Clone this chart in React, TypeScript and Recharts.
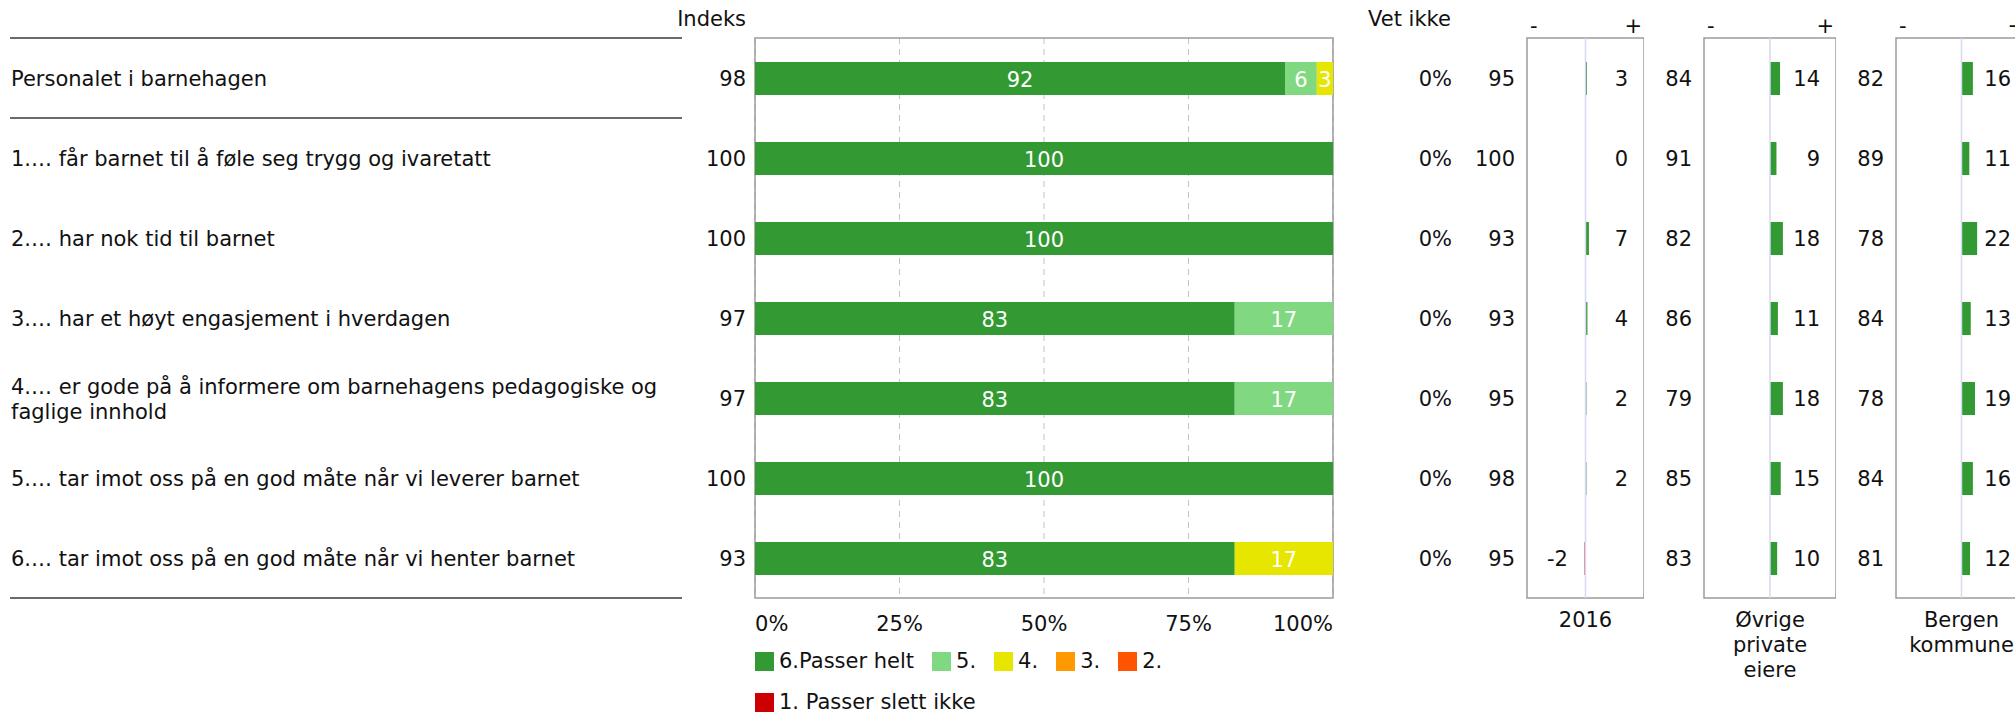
import React from 'react';
import {
  BarChart,
  Bar,
  XAxis,
  YAxis,
  CartesianGrid,
  ReferenceArea,
  ReferenceLine,
  LabelList,
  Cell,
} from 'recharts';

const FONT = '"DejaVu Sans", Verdana, sans-serif';
const FS = 21;
const INK = '#111111';

// ===== data =====
const questions = [
  'Personalet i barnehagen',
  '1.… får barnet til å føle seg trygg og ivaretatt',
  '2.… har nok tid til barnet',
  '3.… har et høyt engasjement i hverdagen',
  '4.… er gode på å informere om barnehagens pedagogiske og faglige innhold',
  '5.… tar imot oss på en god måte når vi leverer barnet',
  '6.… tar imot oss på en god måte når vi henter barnet',
];
const indeks = [98, 100, 100, 97, 97, 100, 93];
const vetIkke = [0, 0, 0, 0, 0, 0, 0];

// share of answers per grade (%)
const s6 = [91.7, 100, 100, 83, 83, 100, 83];
const s5 = [5.5, 0, 0, 17, 17, 0, 0];
const s4 = [2.8, 0, 0, 0, 0, 0, 17];
const s3 = [0, 0, 0, 0, 0, 0, 0];
const s2 = [0, 0, 0, 0, 0, 0, 0];
const s1 = [0, 0, 0, 0, 0, 0, 0];

const seriesKeys = ['s6', 's5', 's4', 's3', 's2', 's1'];
const seriesValues = [s6, s5, s4, s3, s2, s1];
const seriesNames = ['6.Passer helt', '5.', '4.', '3.', '2.', '1. Passer slett ikke'];
const seriesColors = ['#339933', '#80d880', '#e6e600', '#ff9900', '#ff5500', '#cc0000'];
const pctTicks = [0, 25, 50, 75, 100];

// comparison panels
const base2016 = [95, 100, 93, 93, 95, 98, 95];
const diff2016 = [3, 0, 7, 4, 2, 2, -2];
const baseOvrige = [84, 91, 82, 86, 79, 85, 83];
const diffOvrige = [14, 9, 18, 11, 18, 15, 10];
const baseBergen = [82, 89, 78, 84, 78, 84, 81];
const diffBergen = [16, 11, 22, 13, 19, 16, 12];

const panelNames = [['2016'], ['Øvrige', 'private', 'eiere'], ['Bergen', 'kommune']];
const panelBase = [base2016, baseOvrige, baseBergen];
const panelDiff = [diff2016, diffOvrige, diffBergen];
const panelDomain = [120, 92, 92];

// layout
const panelLeft = [1527, 1704, 1896];
const panelWidth = [117, 132, 131];
const ROW = 80;
const LABEL_MAX = 665;

const mainData = questions.map((q, i) => {
  const row: any = { label: q, indeks: indeks[i], vetIkke: vetIkke[i] };
  seriesKeys.forEach((k, j) => (row[k] = seriesValues[j][i]));
  return row;
});

const txt = { fontSize: FS, fontFamily: FONT };

// word wrap with canvas measuring
let ctx: CanvasRenderingContext2D | null = null;
function wrap(s: string, maxW: number) {
  if (!ctx) ctx = document.createElement('canvas').getContext('2d');
  if (!ctx) return [s];
  ctx.font = `${FS}px ${FONT}`;
  const lines: string[] = [];
  let cur = '';
  s.split(' ').forEach((w) => {
    const t = cur ? cur + ' ' + w : w;
    if (cur && ctx!.measureText(t).width > maxW) {
      lines.push(cur);
      cur = w;
    } else cur = t;
  });
  if (cur) lines.push(cur);
  return lines;
}

function QuestionTick(props: any) {
  const { y, payload } = props;
  const i = payload.index;
  const last = questions.length - 1;
  const lines = wrap(String(payload.value), LABEL_MAX);
  return (
    <g>
      <text x={11} y={y + 8} style={txt} fill={INK}>
        {lines.map((l, k) => (
          <tspan key={k} x={11} y={y + 8 + (k - (lines.length - 1) / 2) * 25}>
            {l}
          </tspan>
        ))}
      </text>
      <text x={746} y={y + 8} textAnchor="end" style={txt} fill={INK}>
        {indeks[i]}
      </text>
      {i === 0 && <line x1={10} x2={682} y1={y - ROW / 2} y2={y - ROW / 2} stroke="#3a3a3a" strokeWidth={1.5} />}
      {(i === 0 || i === last) && (
        <line x1={10} x2={682} y1={y + ROW / 2} y2={y + ROW / 2} stroke="#3a3a3a" strokeWidth={1.5} />
      )}
    </g>
  );
}

function VetIkkeTick(props: any) {
  const { y, payload } = props;
  return (
    <text x={1452} y={y + 8} textAnchor="end" style={txt} fill={INK}>
      {vetIkke[payload.index]}%
    </text>
  );
}

function PctTick(props: any) {
  const { x, payload } = props;
  const v = payload.value;
  const anchor = v === 0 ? 'start' : v === 100 ? 'end' : 'middle';
  return (
    <text x={x} y={631} textAnchor={anchor} style={txt} fill={INK}>
      {v}%
    </text>
  );
}

function InBarLabel(props: any) {
  const { x, y, width, height, value } = props;
  if (!value) return null;
  return (
    <text x={x + width / 2} y={y + height / 2 + 8} textAnchor="middle" style={txt} fill="#ffffff">
      {Math.round(value)}
    </text>
  );
}

function MainChart() {
  return (
    <BarChart
      width={1460}
      height={715}
      data={mainData}
      layout="vertical"
      margin={{ top: 38, right: 0, bottom: 77, left: 0 }}
      barSize={33}
    >
      <CartesianGrid horizontal={false} stroke="#c4c4c4" strokeDasharray="6 5" />
      <XAxis type="number" domain={[0, 100]} ticks={pctTicks} interval={0} axisLine={false} tickLine={false} height={40} tick={PctTick} />
      <YAxis type="category" dataKey="label" width={755} interval={0} axisLine={false} tickLine={false} tick={QuestionTick} />
      <YAxis yAxisId="r" orientation="right" type="category" dataKey="label" width={127} interval={0} axisLine={false} tickLine={false} tick={VetIkkeTick} />
      {seriesKeys.map((k, i) => (
        <Bar key={k} dataKey={k} name={seriesNames[i]} stackId="a" fill={seriesColors[i]} isAnimationActive={false}>
          <LabelList dataKey={k} content={InBarLabel} />
        </Bar>
      ))}
      <ReferenceArea x1={0} x2={100} fill="none" stroke="#9c9c9c" strokeWidth={1.5} ifOverflow="visible" />
    </BarChart>
  );
}

function Panel({ p }: { p: number }) {
  const W = 60;
  const PW = panelWidth[p];
  const D = panelDomain[p];
  const data = questions.map((q, i) => ({ label: q, base: panelBase[p][i], diff: panelDiff[p][i] }));

  const signTick = (t: any) => {
    const isMin = t.payload.value < 0;
    return (
      <text x={isMin ? t.x + 3 : t.x - 2} y={33} textAnchor={isMin ? 'start' : 'end'} style={txt} fill={INK}>
        {isMin ? '-' : '+'}
      </text>
    );
  };

  const rowTick = (t: any) => {
    const i = t.payload.index;
    const d = panelDiff[p][i];
    return (
      <g>
        <text x={W - 12} y={t.y + 8} textAnchor="end" style={txt} fill={INK}>
          {panelBase[p][i]}
        </text>
        <text
          x={d < 0 ? W + 20 : W + PW - 16}
          y={t.y + 8}
          textAnchor={d < 0 ? 'start' : 'end'}
          style={txt}
          fill={INK}
        >
          {d}
        </text>
      </g>
    );
  };

  return (
    <div style={{ position: 'absolute', left: panelLeft[p] - W, top: 0 }}>
      <BarChart
        width={W + PW}
        height={715}
        data={data}
        layout="vertical"
        margin={{ top: 0, right: 0, bottom: 117, left: 0 }}
        barSize={33}
      >
        <XAxis type="number" orientation="top" domain={[-D, D]} ticks={[-D, D]} interval={0} allowDataOverflow axisLine={false} tickLine={false} height={38} tick={signTick} />
        <YAxis type="category" dataKey="label" width={W} interval={0} axisLine={false} tickLine={false} tick={rowTick} />
        <ReferenceLine x={0} stroke="#d8d8f4" strokeWidth={1.5} />
        <Bar dataKey="diff" isAnimationActive={false}>
          {data.map((d, i) => (
            <Cell key={i} fill={d.diff < 0 ? '#cc0000' : '#339933'} />
          ))}
        </Bar>
        <ReferenceArea x1={-D} x2={D} fill="none" stroke="#9c9c9c" strokeWidth={1.5} ifOverflow="visible" />
      </BarChart>
      <div
        style={{
          position: 'absolute',
          left: W + PW / 2 - 100,
          top: 608,
          width: 200,
          textAlign: 'center',
          lineHeight: '25px',
          ...txt,
          color: INK,
        }}
      >
        {panelNames[p].map((n) => (
          <div key={n}>{n}</div>
        ))}
      </div>
    </div>
  );
}

export default function App() {
  return (
    <div
      style={{
        position: 'absolute',
        left: 0,
        top: 0,
        width: 2015,
        height: 715,
        overflow: 'hidden',
        background: '#ffffff',
        fontFamily: FONT,
        color: INK,
      }}
    >
      <div style={{ position: 'absolute', left: 0, top: 0 }}>
        <MainChart />
      </div>
      <div style={{ position: 'absolute', left: 646, top: 7, width: 100, textAlign: 'right', lineHeight: '25px', ...txt }}>
        Indeks
      </div>
      <div style={{ position: 'absolute', left: 1368, top: 7, lineHeight: '25px', ...txt }}>Vet ikke</div>
      {panelLeft.map((_, p) => (
        <Panel key={p} p={p} />
      ))}
      <div
        style={{
          position: 'absolute',
          left: 755,
          top: 652,
          width: 578,
          display: 'flex',
          flexWrap: 'wrap',
          columnGap: 18,
          rowGap: 22,
        }}
      >
        {seriesNames.map((n, i) => (
          <div key={n} style={{ display: 'flex', alignItems: 'flex-start', height: 19 }}>
            <span style={{ display: 'inline-block', width: 19, height: 19, background: seriesColors[i], marginRight: 5 }} />
            <span style={{ ...txt, lineHeight: '19px', whiteSpace: 'nowrap' }}>{n}</span>
          </div>
        ))}
      </div>
    </div>
  );
}
